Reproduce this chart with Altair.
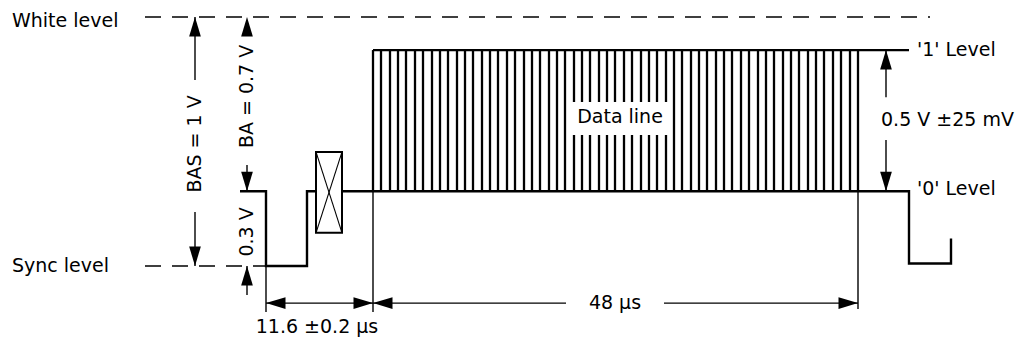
import altair as alt
import pandas as pd

# ---- Schematic units: x = time (µs-like, 0 at sync edge), y = volts (sync level = 0) ----
X_DOMAIN = [-25.8, 75.7]
Y_DOMAIN = [-0.2932, 1.0361]

WHITE_V = 1.0
ZERO_V = 0.3      # '0' level (black level)
ONE_V = 0.867     # '1' level
SYNC_V = 0.0

# waveform polyline
wave_t = [-2.6, 0.0, 0.0, 4.1, 4.1, 64.3, 64.3, 68.5, 68.5]
wave_v = [0.3, 0.3, 0.0, 0.0, 0.3, 0.3, 0.01, 0.01, 0.11]

# data line hatch positions
data_t = [10.7, 11.5, 12.4, 13.2, 14.0, 14.9, 15.7, 16.6, 17.4, 18.2,
          19.1, 19.9, 20.7, 21.6, 22.4, 23.2, 24.1, 24.9, 25.8, 26.6,
          27.4, 28.3, 29.1, 29.9, 30.8, 31.6, 32.4, 33.3, 34.1, 34.9,
          35.8, 36.6, 37.5, 38.3, 39.1, 40.0, 40.8, 41.6, 42.5, 43.3,
          44.1, 45.0, 45.8, 46.6, 47.5, 48.3, 49.2, 50.0, 50.8, 51.7,
          52.5, 53.3, 54.2, 55.0, 55.8, 56.7, 57.5, 58.4, 59.2]
one_line_t = [10.7, 64.3]

# dashed reference levels
dash_t1 = [-12.1, -12.1]
dash_t2 = [66.4, 0.0]
dash_v = [WHITE_V, SYNC_V]

# thin dimension / extension lines
thin_t1 = [0.0, 10.7, 59.2, 0.0, 10.7, 39.8, -7.1, -7.1, -1.9, -1.9, 62.0, 62.0]
thin_t2 = [0.0, 10.7, 59.2, 10.7, 30.0, 59.2, -7.1, -7.1, -1.9, -1.9, 62.0, 62.0]
thin_v1 = [0.3, 0.867, 0.3, -0.149, -0.149, -0.149, 1.0, 0.217, 0.406, 0.0, 0.867, 0.506]
thin_v2 = [-0.185, -0.185, -0.173, -0.149, -0.149, -0.149, 0.747, 0.0, 0.3, -0.116, 0.678, 0.3]

# arrowheads (tip position, direction in degrees clockwise from up)
arrow_t = [-7.1, -7.1, -1.9, -1.9, -1.9, 62.0, 62.0, 0.0, 10.7, 10.7, 59.2]
arrow_v = [1.0, 0.0, 1.0, 0.3, 0.0, 0.867, 0.3, -0.149, -0.149, -0.149, -0.149]
arrow_dir = [0, 180, 0, 180, 0, 0, 180, 270, 90, 270, 90]

# crossed box
box_t = [5.0, 7.6]
box_v = [0.458, 0.133]

# white gap behind "Data line"
gap_t = [30.4, 40.6]
gap_v = [0.659, 0.526]

# texts
left_text = ["White level", "Sync level", "'1' Level", "'0' Level"]
left_t = [-25.4, -25.4, 65.1, 65.1]
left_v = [0.985, 0.0, 0.867, 0.31]

center_text = ["Data line", "0.5 V ±25 mV", "11.6 ±0.2 µs", "48 µs"]
center_t = [35.4, 68.15, 5.1, 34.9]
center_v = [0.598, 0.586, -0.247, -0.149]

rot_text = ["BAS = 1 V", "BA = 0.7 V", "0.3 V"]
rot_t = [-7.1, -1.9, -1.9]
rot_v = [0.49, 0.681, 0.137]

FONT = "DejaVu Sans"
FS = 19

xs = alt.Scale(domain=X_DOMAIN, nice=False, zero=False)
ys = alt.Scale(domain=Y_DOMAIN, nice=False, zero=False)


def X(f):
    return alt.X(f, type="quantitative", scale=xs, axis=None)


def Y(f):
    return alt.Y(f, type="quantitative", scale=ys, axis=None)


dash_df = pd.DataFrame({"t1": dash_t1, "t2": dash_t2, "v": dash_v})
dashed = alt.Chart(dash_df).mark_rule(color="black", strokeWidth=1.5, strokeDash=[16, 11]).encode(
    x=X("t1"), x2="t2", y=Y("v"))

thin_df = pd.DataFrame({"t1": thin_t1, "t2": thin_t2, "v1": thin_v1, "v2": thin_v2})
thin = alt.Chart(thin_df).mark_rule(color="black", strokeWidth=1.4).encode(
    x=X("t1"), x2="t2", y=Y("v1"), y2="v2")

wave_df = pd.DataFrame({"t": wave_t, "v": wave_v, "o": list(range(len(wave_t)))})
wave = alt.Chart(wave_df).mark_line(color="black", strokeWidth=2.4, strokeJoin="miter").encode(
    x=X("t"), y=Y("v"), order="o:Q")

one_df = pd.DataFrame({"t1": [one_line_t[0]], "t2": [one_line_t[1]], "v": [ONE_V]})
one_line = alt.Chart(one_df).mark_rule(color="black", strokeWidth=2.2).encode(
    x=X("t1"), x2="t2", y=Y("v"))

data_df = pd.DataFrame({"t": data_t, "v1": [ZERO_V] * len(data_t), "v2": [ONE_V] * len(data_t)})
data_lines = alt.Chart(data_df).mark_rule(color="black", strokeWidth=2.3).encode(
    x=X("t"), y=Y("v1"), y2="v2")

gap_df = pd.DataFrame({"t1": [gap_t[0]], "t2": [gap_t[1]], "v1": [gap_v[0]], "v2": [gap_v[1]]})
gap = alt.Chart(gap_df).mark_rect(fill="white", strokeWidth=0).encode(
    x=X("t1"), x2="t2", y=Y("v1"), y2="v2")

box_df = pd.DataFrame({"t1": [box_t[0]], "t2": [box_t[1]], "v1": [box_v[0]], "v2": [box_v[1]]})
box = alt.Chart(box_df).mark_rect(fill="white", stroke="black", strokeWidth=2).encode(
    x=X("t1"), x2="t2", y=Y("v1"), y2="v2")

diag_df = pd.DataFrame({"t1": [box_t[0], box_t[1]], "t2": [box_t[1], box_t[0]],
                        "v1": [box_v[0], box_v[0]], "v2": [box_v[1], box_v[1]]})
diag = alt.Chart(diag_df).mark_rule(color="black", strokeWidth=1.1).encode(
    x=X("t1"), x2="t2", y=Y("v1"), y2="v2")

arrow_df = pd.DataFrame({"t": arrow_t, "v": arrow_v, "a": arrow_dir})
arrows = alt.Chart(arrow_df).mark_point(
    shape="M0,0L0.6,2L-0.6,2Z", filled=True, color="black", opacity=1, size=380, strokeWidth=0
).encode(x=X("t"), y=Y("v"), angle=alt.Angle("a:Q", scale=None))

left_df = pd.DataFrame({"label": left_text, "t": left_t, "v": left_v})
left_txt = alt.Chart(left_df).mark_text(
    align="left", baseline="middle", font=FONT, fontSize=FS, color="black").encode(
    x=X("t"), y=Y("v"), text="label:N")

center_df = pd.DataFrame({"label": center_text, "t": center_t, "v": center_v})
center_txt = alt.Chart(center_df).mark_text(
    align="center", baseline="middle", font=FONT, fontSize=FS, color="black").encode(
    x=X("t"), y=Y("v"), text="label:N")

rot_df = pd.DataFrame({"label": rot_text, "t": rot_t, "v": rot_v})
rot_txt = alt.Chart(rot_df).mark_text(
    align="center", baseline="middle", angle=270, font=FONT, fontSize=FS, color="black").encode(
    x=X("t"), y=Y("v"), text="label:N")

chart = alt.layer(
    dashed, thin, wave, one_line, data_lines, gap, box, diag, arrows,
    left_txt, center_txt, rot_txt
).properties(
    width=1015, height=331, padding=0,
    autosize=alt.AutoSizeParams(type="none"),
    background="white",
).configure_view(strokeWidth=0)

chart.save("out.html", embed_options={"renderer": "svg", "actions": False})
